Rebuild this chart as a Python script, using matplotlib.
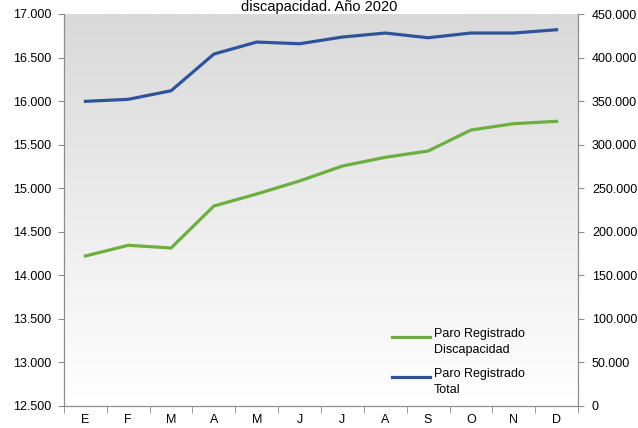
import numpy as np
import matplotlib.pyplot as plt
from matplotlib.colors import LinearSegmentedColormap
from matplotlib.ticker import FuncFormatter, FixedLocator

plt.rcParams['font.family'] = ['Liberation Sans', 'DejaVu Sans']

meses = ['E', 'F', 'M', 'A', 'M', 'J', 'J', 'A', 'S', 'O', 'N', 'D']
paro_discapacidad = [14222, 14345, 14314, 14796, 14934, 15083,
                     15255, 15355, 15427, 15668, 15741, 15768]
paro_total = [349750, 352040, 361910, 404040, 417810, 415860,
              423550, 428140, 422750, 428140, 428140, 431930]

verde = '#6cae3f'
azul = '#2f539b'
gris = '#8c8c8c'

def miles(v, pos):
    return f'{v:,.0f}'.replace(',', '.')

fig = plt.figure(figsize=(6.38, 4.28), dpi=100)
ax = fig.add_axes([64/638, 22/428, 514/638, 392/428])
ax2 = ax.twinx()

# fondo degradado gris -> blanco
grad = np.linspace(0, 1, 256).reshape(-1, 1)
ax.imshow(grad, cmap=LinearSegmentedColormap.from_list('g', ['#d9d9d9', '#ffffff']),
          aspect='auto', extent=[0, 1, 0, 1], transform=ax.transAxes, zorder=0)

x = np.arange(len(meses))
ax.plot(x, paro_discapacidad, color=verde, lw=2.3, zorder=3)
ax2.plot(x, paro_total, color=azul, lw=2.3, zorder=3)

ax.set_xlim(-0.5, len(meses) - 0.5)
ax.set_ylim(12500, 17000)
ax.set_yticks(np.arange(12500, 17001, 500))
ax2.set_ylim(0, 450000)
ax2.set_yticks(np.arange(0, 450001, 50000))
ax.yaxis.set_major_formatter(FuncFormatter(miles))
ax2.yaxis.set_major_formatter(FuncFormatter(miles))

ax.set_xticks(x)
ax.set_xticklabels(meses)
ax.xaxis.set_minor_locator(FixedLocator(np.arange(-0.5, len(meses), 1)))
ax.tick_params(axis='x', which='major', length=0, pad=6, labelsize=9)
ax.tick_params(axis='x', which='minor', length=5, color=gris, direction='out')
ax.tick_params(axis='y', length=4, color=gris, pad=5, labelsize=9)
ax2.tick_params(axis='y', length=4, color=gris, pad=6, labelsize=9)

for a in (ax, ax2):
    a.spines['top'].set_visible(False)
    for s in ('left', 'right', 'bottom'):
        a.spines[s].set_color(gris)
ax2.patch.set_visible(False)

# leyenda
ax.plot([0.638, 0.712], [0.176, 0.176], color=verde, lw=2.3, transform=ax.transAxes, zorder=4)
ax.text(0.72, 0.176 + 0.022, 'Paro Registrado\nDiscapacidad', transform=ax.transAxes,
        va='top', ha='left', fontsize=9, linespacing=1.4)
ax.plot([0.638, 0.712], [0.074, 0.074], color=azul, lw=2.3, transform=ax.transAxes, zorder=4)
ax.text(0.72, 0.074 + 0.022, 'Paro Registrado\nTotal', transform=ax.transAxes,
        va='top', ha='left', fontsize=9, linespacing=1.4)

fig.text(0.5, 1 - 11/428, 'discapacidad. Año 2020', ha='center', va='baseline', fontsize=10.5)

fig.savefig('out.png', dpi=100)
